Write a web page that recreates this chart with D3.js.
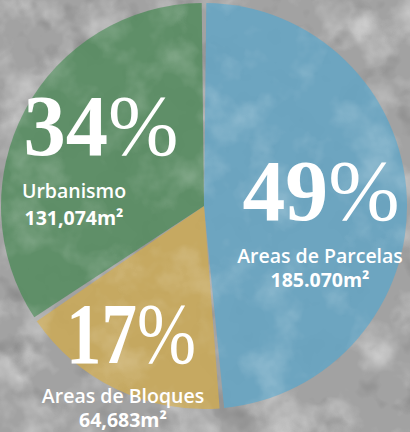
<!DOCTYPE html>
<html>
<head>
<meta charset="utf-8">
<script src="https://cdn.jsdelivr.net/npm/d3@7"></script>
<style>
	html, body { margin: 0; padding: 0; background: #a3a3a3; }
	svg { display: block; }
</style>
</head>
<body>
<div id="chart"></div>
<script>

///////////////////////////////////////////////////////////////////////

let categories = [ "Areas de Parcelas", "Areas de Bloques", "Urbanismo" ];
let areas = [ 185070, 64683, 131074 ];
let area_labels = [ "185.070m²", "64,683m²", "131,074m²" ];
let percents = [ 49, 17, 34 ];
let colors = [ "#68a5c2", "#c8a95b", "#598d63" ];

// label anchors: centre x of the big number / sub labels, baselines, big number width
let label_pos = [
	{ x: 321, sx: 320, big: 220, l1: 263, l2: 287, w: 157 },
	{ x: 131, sx: 123, big: 363, l1: 403, l2: 427, w: 130 },
	{ x: 101, sx: 74,  big: 155, l1: 198, l2: 225, w: 155 }
];

///////////////////////////////////////////////////////////////////////

function add_noise_filters( defs )	{

	let light = defs.append( "filter" )
		.attr( "id", "light_blotch" )
		.attr( "x", 0 ).attr( "y", 0 )
		.attr( "width", "100%" ).attr( "height", "100%" );
	light.append( "feTurbulence" )
		.attr( "type", "fractalNoise" )
		.attr( "baseFrequency", 0.02 )
		.attr( "numOctaves", 4 )
		.attr( "seed", 7 );
	light.append( "feColorMatrix" )
		.attr( "type", "matrix" )
		.attr( "values", "0 0 0 0 1  0 0 0 0 1  0 0 0 0 1  2.6 0 0 0 -1.25" );

	let dark = defs.append( "filter" )
		.attr( "id", "dark_blotch" )
		.attr( "x", 0 ).attr( "y", 0 )
		.attr( "width", "100%" ).attr( "height", "100%" );
	dark.append( "feTurbulence" )
		.attr( "type", "fractalNoise" )
		.attr( "baseFrequency", 0.03 )
		.attr( "numOctaves", 3 )
		.attr( "seed", 21 );
	dark.append( "feColorMatrix" )
		.attr( "type", "matrix" )
		.attr( "values", "0 0 0 0 0  0 0 0 0 0  0 0 0 0 0  -2.5 0 0 0 1.15" );
}

function draw_chart( div_id )	{

	let width = 410, height = 432;
	let cx = 204, cy = 206, radius = 203;

	let svg = d3.select( "#" + div_id )
		.append( "svg" )
			.attr( "width", width )
			.attr( "height", height );

	let defs = svg.append( "defs" );
	add_noise_filters( defs );

	// textured grey backdrop
	svg.append( "rect" )
		.attr( "width", width ).attr( "height", height )
		.attr( "fill", "#a2a2a2" );
	svg.append( "rect" )
		.attr( "width", width ).attr( "height", height )
		.attr( "filter", "url(#light_blotch)" )
		.attr( "opacity", 0.45 );
	svg.append( "rect" )
		.attr( "width", width ).attr( "height", height )
		.attr( "filter", "url(#dark_blotch)" )
		.attr( "opacity", 0.18 );

	let pie = d3.pie()
		.sort( null )
		.value( d => d );

	let pad = 4.6 / radius;

	let arc = d3.arc()
		.innerRadius( 0 )
		.outerRadius( radius )
		.padAngle( pad )
		.padRadius( radius );

	let arcs = pie( areas );

	let g = svg.append( "g" )
		.attr( "transform", "translate(" + cx + "," + cy + ")" );

	g.selectAll( "path" )
		.data( arcs )
		.join( "path" )
			.attr( "d", arc )
			.attr( "fill", ( d, i ) => colors[ i ] )
			.attr( "fill-opacity", 0.93 );

	// faint watercolour texture inside the slices
	let clip = defs.append( "clipPath" )
		.attr( "id", "pie_clip" );
	clip.selectAll( "path" )
		.data( arcs )
		.join( "path" )
			.attr( "transform", "translate(" + cx + "," + cy + ")" )
			.attr( "d", arc );

	svg.append( "rect" )
		.attr( "width", width ).attr( "height", height )
		.attr( "clip-path", "url(#pie_clip)" )
		.attr( "filter", "url(#light_blotch)" )
		.attr( "opacity", 0.22 );

	// labels
	let lab = svg.append( "g" )
		.attr( "fill", "#fff" )
		.attr( "text-anchor", "middle" );

	for( let i=0; i< categories.length; i++ )	{

		let p = label_pos[ i ];

		let big = lab.append( "text" )
			.attr( "x", p.x )
			.attr( "y", p.big )
			.attr( "font-family", "'Liberation Serif', 'DejaVu Serif', serif" )
			.attr( "font-size", 86 )
			.attr( "textLength", p.w )
			.attr( "lengthAdjust", "spacingAndGlyphs" );
		big.append( "tspan" )
			.attr( "font-weight", 700 )
			.text( percents[ i ] );
		big.append( "tspan" )
			.attr( "font-weight", 400 )
			.text( "%" );

		lab.append( "text" )
			.attr( "x", p.sx )
			.attr( "y", p.l1 )
			.attr( "font-family", "'Open Sans', 'Noto Sans', sans-serif" )
			.attr( "font-weight", 600 )
			.attr( "font-size", 19.5 )
			.text( categories[ i ] );

		lab.append( "text" )
			.attr( "x", p.sx )
			.attr( "y", p.l2 )
			.attr( "font-family", "'Open Sans', 'Noto Sans', sans-serif" )
			.attr( "font-weight", 700 )
			.attr( "font-size", 19.5 )
			.text( area_labels[ i ] );
	}
}

draw_chart( "chart" );

</script>
</body>
</html>
